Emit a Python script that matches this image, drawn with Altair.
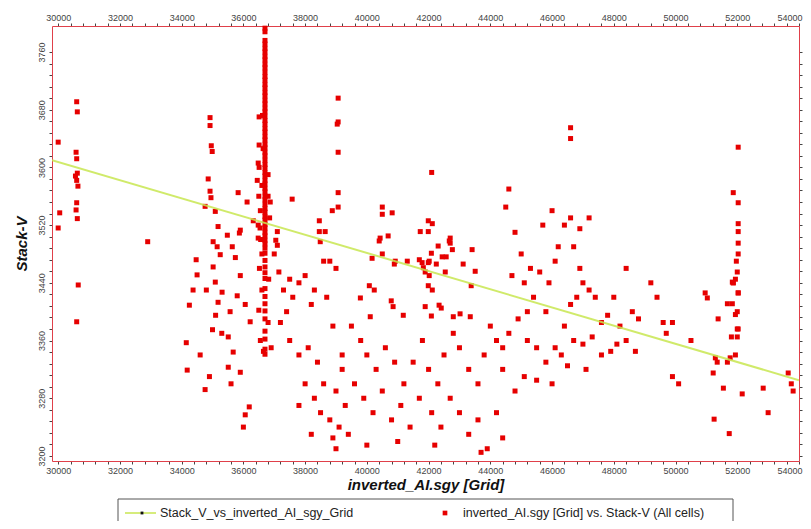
import altair as alt
import pandas as pd

# ---- scatter values (inverted_AI.sgy [Grid] vs Stack-V) ----
point_x = [
    # left edge and cluster near 30600
    30000, 30050, 30000,
    30600, 30620, 30580, 30600, 30620, 30560, 30600, 30640, 30600, 30580, 30620, 30650, 30600,
    32900,
    # 34000-35400
    34920, 34920, 34960, 34990, 34860, 34920, 34950, 34760, 35090, 35180, 35020, 35150, 35250, 35020,
    35090, 35310, 35180, 34470, 34500, 34370, 34250, 34150, 34180, 34760, 35100, 35000, 34600, 34900,
    34800, 35300,
    # 35400-36400
    35830, 35480, 35900, 35870, 36320, 36120, 35640, 35740, 35900, 35800, 36060, 35570, 36220, 35510,
    35670, 35510, 35900, 36190, 35600, 36000, 36060,
    # dense column near 36700
    36700, 36700, 36700, 36700, 36700, 36700, 36700, 36700, 36700, 36700, 36700, 36700, 36700, 36700,
    36700, 36700, 36700, 36700, 36700, 36700, 36700, 36700, 36700, 36700, 36700, 36700, 36700, 36700,
    36700, 36700, 36700, 36700, 36700, 36700, 36700, 36700, 36700, 36700, 36700, 36700, 36700, 36700,
    36700, 36700, 36700, 36700, 36700, 36700, 36700, 36700, 36700, 36700, 36700, 36700, 36700, 36700,
    36700, 36700, 36700, 36700, 36700, 36700, 36700, 36700, 36700, 36700, 36700, 36700, 36700,
    # around the column
    36510, 36620, 36510, 36640, 36480, 36510, 36800, 36450, 36600, 36500, 36800, 36550, 36480, 36850,
    36560, 36600, 36520, 36820, 36600, 36500, 36800, 36550, 36650, 36900, 36870, 36480, 36540,
    # 37000-39300
    37100, 37050, 37100, 37580, 39070, 39070, 39040, 39070, 39070, 39070, 38880, 38460, 38460, 38650,
    38490, 37000, 37150, 37300, 37500, 37800, 38000, 37600, 37400, 38200, 38300, 38600, 38800, 39000,
    38700, 38900, 37200, 37500, 37800, 38100, 38400, 38600, 38300, 38000, 37800, 38500, 38800, 39000,
    39200, 39300, 39100, 38900, 39000, 38200,
    # 39700-43500 around the fit line
    40500, 40500, 40820, 41990, 42120, 41730, 41990, 40690, 40430, 40400, 42700, 42670, 42700, 42310,
    42770, 43410, 42090, 40500, 40170, 41700, 42020, 42440, 42570, 41310, 40920, 40890, 41790, 41990,
    42250, 43120, 41830, 41890, 42020, 42540, 43510, 43380, 41990, 42120, 40080, 40240, 39790, 40790,
    40850, 41890, 42340, 42410, 43020, 43350, 41180, 40110, 42090, 42800,
    # 39200-44400 lower part
    39500, 39800, 40000, 40300, 40600, 40900, 41200, 41500, 41800, 42000, 42300, 42500, 42800, 43000,
    43300, 43600, 43800, 44000, 44200, 39600, 39900, 40200, 40500, 40800, 41100, 41400, 41700, 42100,
    42400, 42700, 43000, 43300, 43600, 43900, 44200, 39400, 40000, 41000, 42200, 43700, 44400, 39200,
    42100,
    # 44300-46300
    44500, 44600, 44800, 45000, 44700, 45100, 45300, 45600, 45400, 45800, 45900, 46100, 45200, 44900,
    44600, 44400, 45200, 45500, 45800, 44400, 44800, 45100, 45500, 46000, 45700, 46000, 46200,
    # 46300-49000
    46600, 46600, 46400, 46600, 46900, 47200, 46700, 46900, 47000, 47200, 47400, 46800, 46600, 46400,
    46700, 47000, 47300, 47600, 47800, 48000, 48200, 48400, 48600, 48800, 47900, 47600, 47100, 46500,
    46100, 46300, 48100, 48400, 48700,
    # 49000-51000
    49200, 49400, 49600, 49700, 49900, 50100, 49900, 50500,
    # 51000-54000
    52030, 51870, 52030, 52030, 52030, 52030, 52030, 51970, 52000, 51940, 51870, 52030, 50960, 51030,
    51840, 51870, 52030, 51680, 51840, 51940, 52000, 51380, 52000, 52030, 51810, 52000, 51940, 51290,
    51350, 51770, 51680, 51220, 51550, 52160, 52840, 53650, 53750, 53810, 53000, 51250, 51740,
]
point_y = [
    3635, 3537, 3516,
    3691, 3677, 3621, 3612, 3592, 3588, 3582, 3574, 3551, 3541, 3529, 3437, 3386,
    3497,
    3669, 3658, 3630, 3622, 3584, 3567, 3558, 3546, 3539, 3518, 3497, 3490, 3479, 3462,
    3441, 3427, 3413, 3472, 3451, 3430, 3409, 3357, 3319, 3292, 3395, 3375, 3340, 3310,
    3430, 3370,
    3565, 3506, 3513, 3509, 3526, 3552, 3490, 3475, 3450, 3422, 3410, 3400, 3386, 3365,
    3344, 3323, 3316, 3268, 3300, 3240, 3257,
    3793, 3788, 3776, 3771, 3765, 3760, 3754, 3749, 3743, 3738, 3732, 3726, 3721, 3715,
    3710, 3704, 3699, 3693, 3688, 3682, 3677, 3671, 3665, 3660, 3654, 3649, 3643, 3638,
    3632, 3627, 3621, 3616, 3610, 3604, 3599, 3593, 3588, 3582, 3577, 3571, 3566, 3560,
    3555, 3549, 3543, 3538, 3532, 3527, 3521, 3516, 3510, 3505, 3499, 3494, 3488, 3481,
    3471, 3462, 3454, 3446, 3432, 3421, 3411, 3401, 3390, 3373, 3362, 3348, 3341,
    3670, 3672, 3631, 3626, 3606, 3600, 3590, 3582, 3575, 3560, 3560, 3540, 3520, 3530,
    3500, 3480, 3460, 3445, 3430, 3402, 3385, 3360, 3345, 3350, 3552, 3502, 3516,
    3511, 3499, 3492, 3556, 3696, 3663, 3660, 3621, 3565, 3545, 3540, 3526, 3511, 3511,
    3497, 3480, 3455, 3430, 3445, 3440, 3450, 3420, 3400, 3410, 3430, 3470, 3470, 3460,
    3420, 3380, 3385, 3360, 3340, 3350, 3330, 3300, 3280, 3300, 3270, 3260, 3250, 3290,
    3320, 3270, 3240, 3225, 3210, 3230,
    3545, 3535, 3537, 3526, 3522, 3511, 3511, 3505, 3502, 3498, 3502, 3498, 3495, 3491,
    3486, 3486, 3481, 3480, 3474, 3472, 3470, 3476, 3476, 3470, 3470, 3466, 3468, 3468,
    3466, 3466, 3461, 3455, 3450, 3455, 3456, 3436, 3436, 3430, 3436, 3430, 3419, 3415,
    3407, 3407, 3409, 3405, 3397, 3393, 3395, 3393, 3394, 3393,
    3380, 3360, 3340, 3320, 3350, 3330, 3300, 3330, 3360, 3320, 3300, 3340, 3370, 3350,
    3320, 3300, 3340, 3380, 3360, 3300, 3280, 3260, 3290, 3250, 3270, 3240, 3280, 3260,
    3240, 3280, 3260, 3230, 3250, 3210, 3260, 3230, 3215, 3220, 3215, 3205, 3225, 3340,
    3593,
    3545, 3570, 3510, 3480, 3450, 3440, 3460, 3455, 3420, 3400, 3440, 3470, 3400, 3390,
    3370, 3350, 3360, 3350, 3330, 3320, 3290, 3310, 3305, 3300, 3520, 3540, 3490,
    3655, 3640, 3520, 3530, 3515, 3530, 3490, 3460, 3440, 3430, 3420, 3420, 3410, 3380,
    3360, 3355, 3365, 3385, 3395, 3420, 3380, 3460, 3400, 3390, 3345, 3340, 3320, 3325,
    3350, 3340, 3355, 3360, 3345,
    3440, 3420, 3385, 3370, 3385, 3300, 3310, 3360,
    3628, 3565, 3551, 3522, 3511, 3495, 3480, 3470, 3455, 3445, 3440, 3426, 3426, 3419,
    3441, 3440, 3426, 3411, 3411, 3396, 3400, 3390, 3376, 3376, 3365, 3365, 3340, 3336,
    3330, 3336, 3330, 3315, 3294, 3286, 3294, 3315, 3300, 3290, 3260, 3251, 3231,
]

# regression line end points
fit_x = [29800, 54000]
fit_y = [3610, 3305]

x_ticks = list(range(30000, 54001, 400))
y_ticks = list(range(3200, 3761, 16))
x_domain = [29800, 54000]
y_domain = [3193, 3796]

legend_labels = ["Stack_V_vs_inverted_AI_sgy_Grid", "inverted_AI.sgy [Grid] vs. Stack-V (All cells)"]

pts = pd.DataFrame({"x": point_x, "y": point_y})
fit = pd.DataFrame({"x": fit_x, "y": fit_y})

FONT = "Liberation Sans"
xs = alt.Scale(domain=x_domain, nice=False, zero=False)
ys = alt.Scale(domain=y_domain, nice=False, zero=False)

common_axis = dict(
    domainColor="#e0404a", domainWidth=1, tickColor="#444444", tickSize=3, tickWidth=1,
    labelFont=FONT, labelFontSize=9, labelColor="#444444", grid=False,
    titleFont=FONT, titleFontSize=15, titleFontWeight="bold", titleFontStyle="italic", titleColor="#111111",
)

x_label_expr = "datum.value % 2000 == 0 ? format(datum.value, 'd') : ''"
x_label_align = {"condition": {"test": "datum.value >= 54000", "value": "right"}, "value": "center"}
x_label_offset = {"condition": {"test": "datum.value >= 54000", "value": 3}, "value": 0}

x_bottom = alt.Axis(
    orient="bottom", values=x_ticks, title="inverted_AI.sgy [Grid]",
    labelExpr=x_label_expr, labelAlign=x_label_align, labelOffset=x_label_offset,
    labelPadding=2, titlePadding=2, labelFlush=False, labelOverlap=False, **common_axis,
)
y_left = alt.Axis(
    orient="left", values=y_ticks, title="Stack-V",
    labelExpr="datum.value % 80 == 0 ? format(datum.value, 'd') : ''",
    labelAngle=270, labelAlign="center", labelBaseline="bottom",
    labelPadding=3, titlePadding=8, labelFlush=False, labelOverlap=False, **common_axis,
)
x_top = alt.Axis(
    orient="top", values=x_ticks, title=None,
    labelExpr=x_label_expr, labelAlign=x_label_align, labelOffset=x_label_offset,
    labelPadding=1, labelFlush=False, labelOverlap=False, **common_axis,
)
y_right = alt.Axis(orient="right", values=y_ticks, title=None, labels=False, **common_axis)

points = alt.Chart(pts).mark_square(size=25, color="#e60000", opacity=1).encode(
    x=alt.X("x:Q", scale=xs, axis=x_bottom),
    y=alt.Y("y:Q", scale=ys, axis=y_left),
)

line = alt.Chart(fit).mark_line(color="#c8e650", strokeWidth=2, opacity=0.85, clip=True).encode(
    x=alt.X("x:Q", scale=xs, axis=x_top),
    y=alt.Y("y:Q", scale=ys, axis=y_right),
)

one = pd.DataFrame({"k": [0]})
legend_box = alt.Chart(one).mark_rect(fill="white", stroke="#555555", strokeWidth=1).encode(
    x=alt.value(66), x2=alt.value(681), y=alt.value(473), y2=alt.value(497)
)
legend_line = alt.Chart(one).mark_rule(color="#c8e650", strokeWidth=1.5).encode(
    x=alt.value(73), x2=alt.value(104), y=alt.value(487)
)
legend_dot = alt.Chart(one).mark_square(size=8, color="#111111", opacity=1).encode(
    x=alt.value(90), y=alt.value(487)
)
legend_sq = alt.Chart(one).mark_square(size=22, color="#e60000", opacity=1).encode(
    x=alt.value(393), y=alt.value(487)
)
legend_t1 = alt.Chart(one).mark_text(
    text=legend_labels[0], font=FONT, fontSize=12.5, color="#222222", align="left", baseline="middle"
).encode(x=alt.value(108), y=alt.value(487))
legend_t2 = alt.Chart(one).mark_text(
    text=legend_labels[1], font=FONT, fontSize=12.5, color="#222222", align="left", baseline="middle"
).encode(x=alt.value(411), y=alt.value(487))

chart = alt.layer(
    points, line, legend_box, legend_line, legend_dot, legend_sq, legend_t1, legend_t2
).resolve_axis(x="independent", y="independent").properties(
    width=747, height=435,
    autosize=alt.AutoSizeParams(type="none"),
    padding={"left": 44, "top": 18, "right": 4, "bottom": 60},
    background="white",
).configure_view(stroke=None)

chart.save("out.html", embed_options={"renderer": "svg", "actions": False})
